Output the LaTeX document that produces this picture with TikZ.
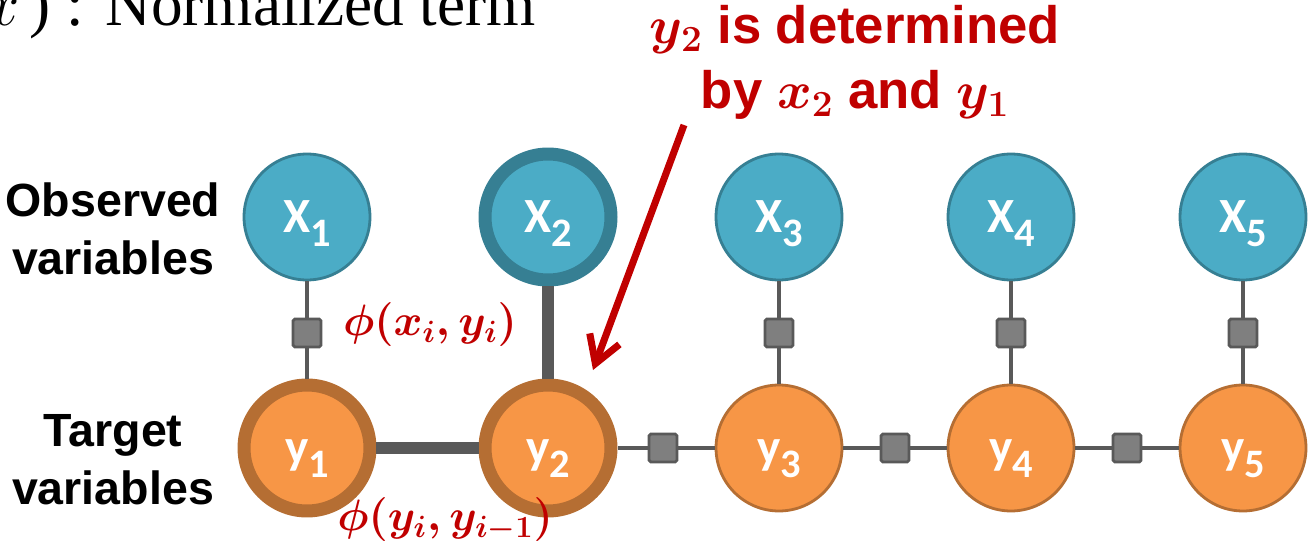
\RequirePackage{fix-cm}
\documentclass[tikz,border=0pt]{standalone}
\usepackage[no-math]{fontspec}
\setmainfont{Liberation Serif}
\newfontfamily\headfont{Liberation Sans}
\newfontfamily\varfont{Carlito}
\usepackage{tikz}
\usetikzlibrary{arrows.meta, positioning}
\definecolor{Aqua}{HTML}{4BACC6}
\definecolor{DeepAqua}{HTML}{367F93}
\definecolor{Amber}{HTML}{F79646}
\definecolor{Rust}{HTML}{B56E33}
\definecolor{Iron}{HTML}{595959}
\definecolor{Ash}{HTML}{7F7F7F}
\definecolor{Crimson}{HTML}{C00000}

\newcommand{\varname}[2]{#1\raisebox{-8pt}{\fontsize{23}{23}\selectfont #2}}

\begin{document}
\begin{tikzpicture}[
        x=0.02cm,
        y=-0.02cm,
        varnode/.style={circle, minimum size=2.52cm, inner sep=0pt, line width=1.6pt, text=white, text height=22pt, text depth=4pt, font=\varfont\bfseries\fontsize{28}{30}\selectfont},
        observed/.style={varnode, fill=Aqua, draw=DeepAqua},
        target/.style={varnode, fill=Amber, draw=Rust},
        active/.style={line width=7.4pt},
        factor/.style={rectangle, minimum size=0.56cm, inner sep=0pt, rounded corners=1pt, fill=Ash, draw=Iron, line width=1.6pt},
        link/.style={draw=Iron, line width=2.3pt},
        strong/.style={draw=Iron, line width=6.8pt},
        sidelabel/.style={align=center, font=\headfont\bfseries\fontsize{26.5}{33}\selectfont},
        potential/.style={text=Crimson, font=\fontsize{25}{25}\selectfont\boldmath},
        pointer/.style={-{Straight Barb[length=15pt, width=18pt]}, line width=4pt, draw=Crimson}
      ]
        \useasboundingbox (0,0) rectangle (1310,547);
        \clip (0,0) rectangle (1310,547);

        \node[anchor=base east, font=\fontsize{36}{36}\selectfont] (normterm) at (542,26) {$x$\,) : Normalized term};

        \node[observed] (x1) at (307,217) {\varname{X}{1}};
        \node[observed, active] (x2) at (548,217) {\varname{X}{2}};
        \node[observed] (x3) at (779,217) {\varname{X}{3}};
        \node[observed] (x4) at (1011,217) {\varname{X}{4}};
        \node[observed] (x5) at (1243,217) {\varname{X}{5}};

        \node[target, active] (y1) at (307,448) {\varname{y}{1}};
        \node[target, active] (y2) at (548,448) {\varname{y}{2}};
        \node[target] (y3) at (779,448) {\varname{y}{3}};
        \node[target] (y4) at (1011,448) {\varname{y}{4}};
        \node[target] (y5) at (1243,448) {\varname{y}{5}};

        \node[factor] (f1) at (307,333) {};
        \node[factor] (f3) at (779,333) {};
        \node[factor] (f4) at (1011,333) {};
        \node[factor] (f5) at (1243,333) {};
        \node[factor] (f23) at (663,448) {};
        \node[factor] (f34) at (895,448) {};
        \node[factor] (f45) at (1127,448) {};

        \node[sidelabel] (obslabel) at (113,229) {Observed\\variables};
        \node[sidelabel] (tgtlabel) at (113,460) {Target\\variables};

        \node[potential] (phixy) at (430,325) {$\phi(x_i,y_i)$};
        \node[potential] (phiyy) at (445,520) {$\phi(y_i,y_{i-1})$};

        \node[align=center, text=Crimson, font=\headfont\bfseries\fontsize{30}{37}\selectfont\boldmath] (note) at (855,62) {$y_2$ is determined\\by $x_2$ and $y_1$};

        % factor edges
        \draw[link] (x1) -- (f1) -- (y1);
        \draw[link] (x3) -- (f3) -- (y3);
        \draw[link] (x4) -- (f4) -- (y4);
        \draw[link] (x5) -- (f5) -- (y5);
        \draw[link] (y2) -- (f23) -- (y3);
        \draw[link] (y3) -- (f34) -- (y4);
        \draw[link] (y4) -- (f45) -- (y5);

        % edges used for y2
        \draw[strong] (x2) -- (y2);
        \draw[strong] (y1) -- (y2);

        \coordinate (arrowstart) at (684,125);
        \coordinate (arrowtip) at (593,370);
        \draw[pointer] (arrowstart) -- (arrowtip);
      \end{tikzpicture}
\end{document}
